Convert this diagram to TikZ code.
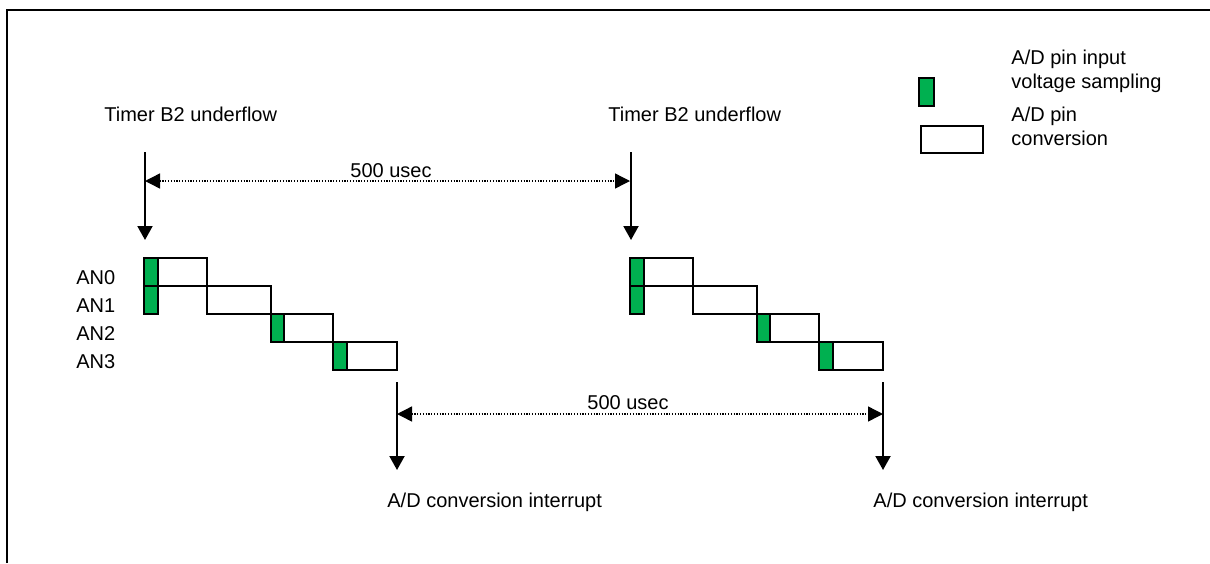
\documentclass[tikz,border=0pt]{standalone}
\usepackage{fontspec}
\setmainfont{Liberation Sans}
\usetikzlibrary{arrows.meta,positioning}
\definecolor{sampgreen}{HTML}{00B050}

\begin{document}
\begin{tikzpicture}[x=0.5pt,y=-0.5pt,
  every node/.style={font=\fontsize{10}{12}\selectfont, inner sep=0pt},
  lbl/.style={anchor=base west, align=left},
  sampbox/.style={draw, fill=sampgreen, line width=1pt},
  convbox/.style={draw, line width=0.9pt},
  evt/.style={arrows={-Triangle[width=7.5pt,length=7pt]}, line width=1pt},
  span/.style={arrows={Triangle[width=7.5pt,length=7.5pt]-Triangle[width=7.5pt,length=7.5pt]}, dash pattern=on 0.6pt off 0.8pt, line width=0.7pt}]
	\useasboundingbox (0,0) rectangle (1210,563);
	% frame
	\draw[line width=1pt] (7,563) -- (7,10) -- (1210,10);
	
	% legend
	\draw[sampbox] (919,78) rectangle (934,106);
	\node[lbl] (legsamp) at (1011,88) {A/D pin input\\voltage sampling};
	\draw[convbox] (921,126) rectangle (983,153);
	\node[lbl] (legconv) at (1011,145) {A/D pin\\conversion};
	
	% timer events
	\node[lbl] (undera) at (104,121) {Timer B2 underflow};
	\node[lbl] (underb) at (608,121) {Timer B2 underflow};
	
	% channel names
	\node[lbl] (an0) at (76,284) {AN0};
	\node[lbl] (an1) at (76,312) {AN1};
	\node[lbl] (an2) at (76,340) {AN2};
	\node[lbl] (an3) at (76,368) {AN3};
	
	\foreach \dx/\k in {0/a,486/b}{
		\begin{scope}[shift={(\dx,0)}]
			\coordinate (trig\k) at (145,152);
			\coordinate (trigtip\k) at (145,240);
			\draw[evt] (trig\k) -- (trigtip\k);
			
			\draw[convbox] (158,258) rectangle (207,286);
			\draw[convbox] (207,286) rectangle (271,314);
			\draw[convbox] (284,314) rectangle (333,342);
			\draw[convbox] (347,342) rectangle (397,370);
			\draw[sampbox] (144,258) rectangle (158,286);
			\draw[sampbox] (144,286) rectangle (158,314);
			\draw[sampbox] (271,314) rectangle (284,342);
			\draw[sampbox] (333,342) rectangle (347,370);
			
			\coordinate (done\k) at (397,382);
			\coordinate (donetip\k) at (397,470);
			\draw[evt] (done\k) -- (donetip\k);
			\node[lbl] (irq\k) at (387,507) {A/D conversion interrupt};
		\end{scope}
	}
	
	% periods
	\coordinate (pera) at (145,181);
	\coordinate (perb) at (630,181);
	\draw[span] (pera) -- (perb);
	\node[lbl] (perlbl) at (350,177) {500 usec};
	\coordinate (irqpera) at (397,414);
	\coordinate (irqperb) at (883,414);
	\draw[span] (irqpera) -- (irqperb);
	\node[lbl] (irqperlbl) at (587,409) {500 usec};
\end{tikzpicture}
\end{document}
